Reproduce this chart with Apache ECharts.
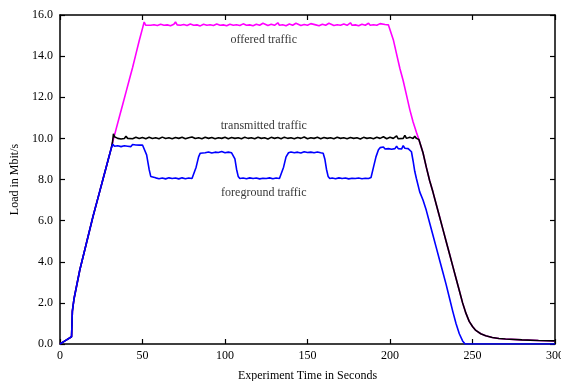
<!DOCTYPE html>
<html>
<head>
<meta charset="utf-8">
<script src="https://cdn.jsdelivr.net/npm/echarts@6/dist/echarts.min.js"></script>
<style>
  html, body { margin: 0; padding: 0; background: #fff; }
  #chart { width: 561px; height: 381px; }
</style>
</head>
<body>
<div id="chart"></div>
<script>
// shared start-up ramp (all three curves overlap here)
const ramp = [[0,0],[3,0.15],[7,0.35],[7.5,1.6],[8.5,2.2],[12,3.6],[16,4.9],[20,6.2],[24,7.4],[26,8.0],[29,8.9],[31,9.5]];

// offered traffic (magenta)
const offeredRise = [[32,9.85],[34,10.45],[36,11.05],[38,11.65],[40,12.25],[42,12.85],[44,13.45],[46,14.1],[48,14.75],[50,15.35],[51,15.66]];
const offeredFlat = [[52,15.5],[53,15.56],[55,15.5],[57,15.53],[59,15.49],[61,15.55],[62,15.62],[63,15.5],[65,15.52],[67,15.48],[69,15.55],[70,15.66],[71,15.52],[73,15.5],[75,15.54],[77,15.49],[79,15.56],[80,15.63],[81,15.5],[83,15.52],[85,15.47],[87,15.55],[88,15.64],[89,15.5],[91,15.53],[93,15.49],[95,15.56],[96,15.62],[97,15.5],[99,15.52],[101,15.48],[103,15.55],[104,15.61],[105,15.5],[107,15.53],[109,15.49],[111,15.57],[112,15.64],[113,15.5],[115,15.52],[117,15.48],[119,15.55],[121,15.5],[123,15.6],[124,15.52],[126,15.49],[128,15.55],[130,15.5],[132,15.62],[133,15.5],[135,15.53],[137,15.48],[139,15.56],[141,15.5],[143,15.6],[144,15.51],[146,15.49],[148,15.54],[150,15.5],[152,15.58],[153,15.5],[155,15.52],[157,15.48],[159,15.55],[161,15.5],[163,15.6],[164,15.51],[166,15.49],[168,15.53],[170,15.5],[172,15.56],[174,15.5],[176,15.62],[177,15.5],[179,15.52],[181,15.48],[183,15.55],[185,15.5],[187,15.6],[188,15.5],[190,15.53],[192,15.5],[194,15.58],[195,15.5],[197,15.54],[199,15.52]];
const offeredFall = [[200,15.45],[202,14.8],[204,14.1],[206,13.4],[208,12.8],[210,12.1],[212,11.4],[214,10.8],[216,10.3]];

// transmitted traffic (black)
const transFlat = [[31.8,9.8],[32.4,10.22],[33,10.08],[34,10.12],[35,10.0],[36,10.08],[37,9.97],[38,10.06],[39,9.99],[40,10.1],[41,10.0],[42,10.04],[44,9.98],[46,10.05],[48,9.99],[50,10.04],[52,9.98],[54,10.05],[56,9.99],[58,10.03],[60,9.98],[62,10.06],[64,9.99],[66,10.03],[68,9.98],[70,10.04],[72,10.0],[74,10.05],[76,9.98],[78,10.03],[80,10.07],[82,9.99],[84,10.03],[86,9.98],[88,10.05],[90,10.0],[92,10.04],[94,9.98],[96,10.03],[98,10.0],[100,10.05],[102,9.98],[104,10.04],[106,10.0],[108,10.03],[110,9.98],[112,10.06],[114,10.0],[116,10.03],[118,9.98],[120,10.05],[122,10.0],[124,10.03],[126,9.97],[128,10.05],[130,10.0],[132,10.04],[134,9.98],[136,10.06],[138,10.0],[140,10.03],[142,9.98],[144,10.04],[146,10.0],[148,10.07],[150,9.98],[152,10.03],[154,10.0],[156,10.05],[158,9.98],[160,10.04],[162,10.0],[164,10.03],[166,9.98],[168,10.05],[170,10.0],[172,10.03],[174,9.98],[176,10.04],[178,10.0],[180,10.03],[182,9.97],[184,10.05],[186,10.0],[188,10.03],[190,9.98],[192,10.05],[194,10.0],[196,10.08],[198,9.98],[200,10.05],[202,10.0],[204,10.12],[205,9.98],[206,10.05],[208,10.0],[209,10.15],[210,10.0],[212,10.06],[214,9.99],[215,10.1],[216,10.0]];
// decay shared by transmitted and offered after ~217 s
const tail = [[217.5,9.95],[220,9.3],[222,8.6],[224,7.95],[226,7.4],[228,6.8],[230,6.2],[232,5.6],[234,5.0],[236,4.4],[238,3.8],[240,3.2],[242,2.6],[244,2.0],[246,1.5],[248,1.1],[250,0.85],[252,0.66],[255,0.5],[258,0.4],[262,0.32],[266,0.27],[270,0.24],[280,0.2],[290,0.17],[300,0.15]];

// foreground traffic (blue)
const fgSteps = [[32,9.72],[33,9.62],[34,9.7],[35,9.64],[36,9.72],[37,9.6],[38,9.68],[39,9.64],[40,9.7],[41,9.62],[42,9.66],[43,9.6],[44,9.7],[45,9.64],[46,9.68],[47,9.61],[48,9.67],[49,9.63],[50,9.68],[51,9.6],
  [52.5,9.2],[54,8.5],[55,8.15],[56,8.06],[58,8.08],[60,8.04],[62,8.07],[64,8.03],[66,8.08],[68,8.05],[70,8.07],[72,8.03],[74,8.08],[76,8.04],[78,8.07],[80,8.05],[81,8.1],
  [82.5,8.6],[84,9.1],[85,9.28],[86,9.33],[88,9.3],[90,9.34],[92,9.29],[94,9.33],[96,9.31],[98,9.36],[100,9.3],[102,9.33],[104,9.3],[105,9.28],
  [106,9.0],[107,8.5],[108,8.15],[109,8.05],[111,8.07],[113,8.04],[115,8.08],[117,8.05],[119,8.07],[121,8.03],[123,8.06],[125,8.05],[127,8.08],[129,8.04],[131,8.07],[133,8.05],[134,8.1],
  [135.5,8.6],[137,9.1],[138.5,9.3],[140,9.34],[142,9.3],[144,9.33],[146,9.29],[148,9.35],[150,9.31],[152,9.33],[154,9.3],[156,9.34],[158,9.3],[159.5,9.28],
  [160.5,9.0],[161.5,8.5],[162.5,8.15],[163.5,8.05],[165,8.07],[167,8.04],[169,8.08],[171,8.05],[173,8.07],[175,8.03],[177,8.06],[179,8.05],[181,8.07],[183,8.04],[185,8.06],[187,8.05],[188.5,8.1],
  [190,8.6],[191.5,9.1],[193,9.45],[194,9.55],[195,9.5],[196,9.58],[197,9.48],[198,9.55],[199,9.5],[200,9.56],[201,9.47],[202,9.55],[203,9.5],[204,9.62],[205,9.5],[206,9.55],[207,9.48],[208,9.65],[209,9.52],[210,9.6],[211,9.5],[212,9.55]];
const fgFall = [[213,9.35],[214,8.9],[215,8.4],[216,8.05],[218,7.4],[220,7.0],[222,6.5],[224,5.9],[226,5.3],[228,4.7],[230,4.1],[232,3.5],[234,2.9],[236,2.25],[238,1.6],[240,1.0],[242,0.5],[244,0.15],[245.5,0],[300,0]];

// curve annotations [time, load, text]
const notes = [[123.5,14.78,'offered traffic'],[123.5,10.6,'transmitted traffic'],[123.5,7.35,'foreground traffic']];

const xTicks = { min: 0, max: 300, interval: 50 };
const yTicks = { min: 0, max: 16, interval: 2 };

const font = 'Liberation Serif';
const chart = echarts.init(document.getElementById('chart'));

const axisBase = {
    axisLine: { show: true, onZero: false, lineStyle: { color: '#000', width: 1.5 } },
    axisTick: { show: true, inside: true, length: 5, lineStyle: { color: '#000', width: 1.2 } },
    splitLine: { show: false }
};

function line(data, color, z) {
    return {
        type: 'line', data: data, showSymbol: false, z: z,
        lineStyle: { color: color, width: 1.6 }, itemStyle: { color: color },
        animation: false
    };
}

chart.setOption({
    animation: false,
    grid: { left: 60, right: 6, top: 15, bottom: 37, containLabel: false, outerBoundsMode: 'none' },
    xAxis: [
        Object.assign({}, axisBase, xTicks, {
            type: 'value', position: 'bottom',
            name: 'Experiment Time in Seconds', nameLocation: 'middle', nameGap: 26,
            nameTextStyle: { color: '#000', fontFamily: font, fontSize: 12 },
            axisLabel: { color: '#000', fontFamily: font, fontSize: 12, margin: 6 }
        }),
        Object.assign({}, axisBase, xTicks, { type: 'value', position: 'top', axisLabel: { show: false } })
    ],
    yAxis: [
        Object.assign({}, axisBase, yTicks, {
            type: 'value', position: 'left',
            name: 'Load in Mbit/s', nameLocation: 'middle', nameGap: 37,
            nameTextStyle: { color: '#000', fontFamily: font, fontSize: 12 },
            axisLabel: { color: '#000', fontFamily: font, fontSize: 12, margin: 7,
                formatter: v => v.toFixed(1) }
        }),
        Object.assign({}, axisBase, yTicks, { type: 'value', position: 'right', axisLabel: { show: false } })
    ],
    series: [
        line([...ramp, ...offeredRise, ...offeredFlat, ...offeredFall, ...tail], '#ff00ff', 2),
        line([...ramp, ...transFlat, ...tail], '#000000', 3),
        line([...ramp, ...fgSteps, ...fgFall], '#0000ff', 4),
        {
            type: 'scatter', symbolSize: 0, z: 5, animation: false,
            data: notes,
            label: {
                show: true, position: 'inside', color: '#000',
                fontFamily: font, fontSize: 12,
                formatter: p => p.data[2]
            }
        }
    ]
});
</script>
</body>
</html>
